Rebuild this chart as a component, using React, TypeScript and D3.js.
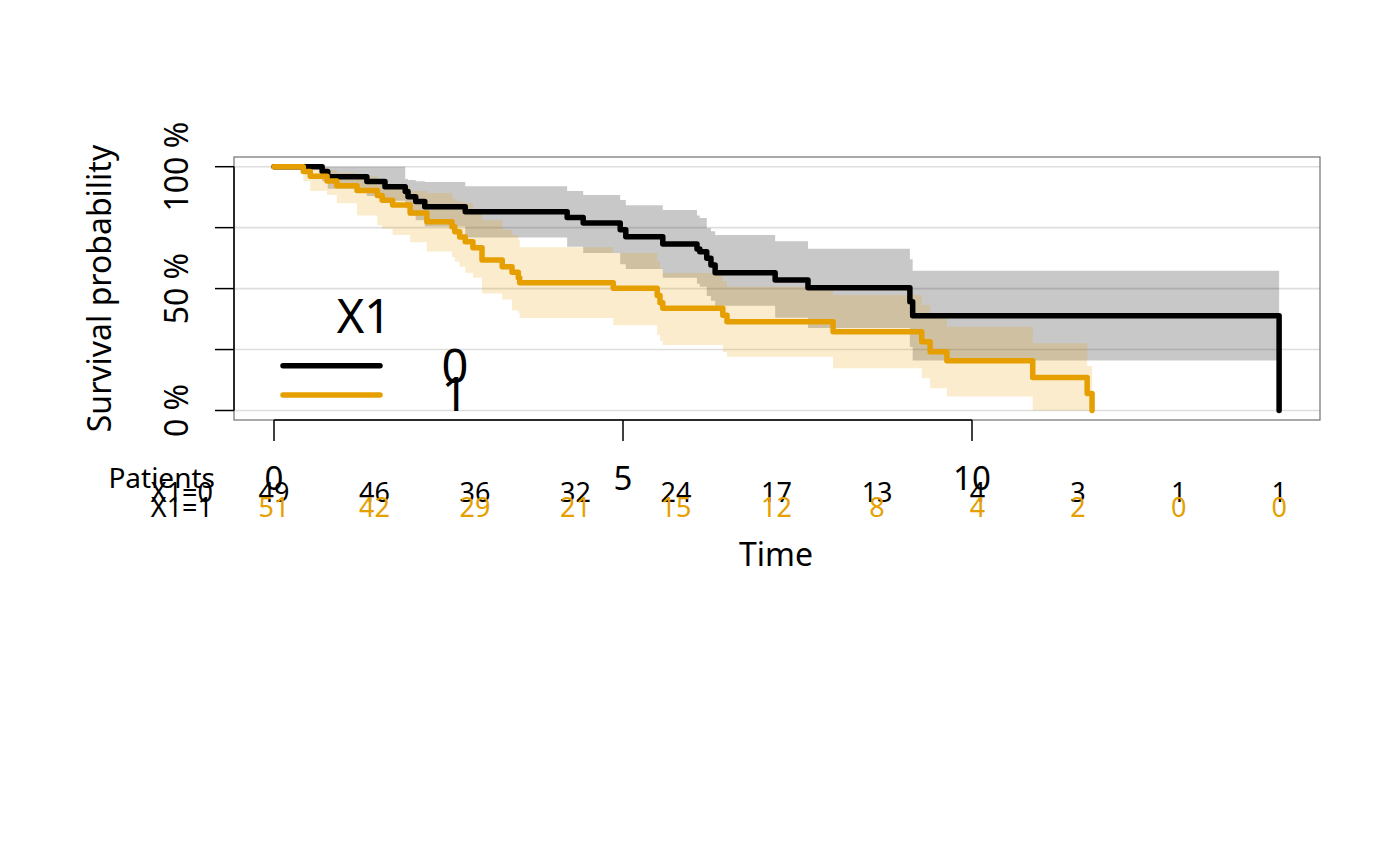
import * as d3 from 'd3';

// group X1 = 0 (black) and X1 = 1 (orange)
const groupLabels = ['0', '1'];
const groupColors = ['#000000', '#E69F00'];

const time0 = [0, 0.69, 0.77, 1.33, 1.59, 1.88, 1.92, 2.03, 2.16, 2.74, 4.2, 4.43, 4.96, 5.04, 5.57, 6.06, 6.1, 6.2, 6.26, 6.32, 7.18, 7.65, 9.11, 9.15, 14.4];
const surv0 = [1, 0.98, 0.959, 0.939, 0.918, 0.898, 0.877, 0.857, 0.836, 0.815, 0.792, 0.769, 0.741, 0.713, 0.683, 0.662, 0.651, 0.624, 0.597, 0.565, 0.535, 0.504, 0.446, 0.389, 0];
const upper0 = [1, 1, 1, 1, 1, 0.95, 0.945, 0.94, 0.937, 0.92, 0.9, 0.884, 0.863, 0.842, 0.822, 0.8, 0.79, 0.748, 0.735, 0.72, 0.694, 0.663, 0.62, 0.573, 0.573];
const lower0 = [1, 0.94, 0.91, 0.88, 0.86, 0.83, 0.8, 0.78, 0.755, 0.71, 0.672, 0.646, 0.6, 0.58, 0.545, 0.52, 0.508, 0.47, 0.45, 0.43, 0.38, 0.338, 0.26, 0.205, 0.205];

const time1 = [0, 0.42, 0.52, 0.76, 0.9, 1.19, 1.48, 1.55, 1.7, 1.95, 2.19, 2.55, 2.59, 2.66, 2.74, 2.85, 2.98, 3.27, 3.41, 3.5, 3.52, 4.86, 5.49, 5.53, 5.57, 6.43, 6.49, 8.01, 9.28, 9.4, 9.64, 10.87, 11.65, 11.72];
const surv1 = [1, 0.98, 0.961, 0.941, 0.922, 0.902, 0.882, 0.862, 0.843, 0.81, 0.774, 0.754, 0.733, 0.712, 0.692, 0.668, 0.617, 0.59, 0.567, 0.545, 0.524, 0.501, 0.472, 0.442, 0.419, 0.391, 0.364, 0.323, 0.282, 0.241, 0.204, 0.135, 0.07, 0];
const upper1 = [1, 1, 0.995, 0.985, 0.975, 0.96, 0.945, 0.93, 0.92, 0.9, 0.892, 0.87, 0.86, 0.855, 0.85, 0.82, 0.78, 0.74, 0.72, 0.7, 0.67, 0.646, 0.61, 0.585, 0.564, 0.53, 0.508, 0.474, 0.433, 0.385, 0.344, 0.276, 0.183, 0.183];
const lower1 = [1, 0.94, 0.9, 0.884, 0.85, 0.8, 0.76, 0.745, 0.72, 0.69, 0.652, 0.63, 0.61, 0.59, 0.565, 0.545, 0.48, 0.455, 0.41, 0.4, 0.379, 0.35, 0.31, 0.285, 0.269, 0.24, 0.22, 0.173, 0.132, 0.091, 0.057, 0, 0, 0];

const riskTimes = [0, 1.44, 2.88, 4.32, 5.76, 7.2, 8.64, 10.08, 11.52, 12.96, 14.4];
const risk0 = [49, 46, 36, 32, 24, 17, 13, 4, 3, 1, 1];
const risk1 = [51, 42, 29, 21, 15, 12, 8, 4, 2, 0, 0];

const xTicks = [0, 5, 10];
const yGrid = [0, 0.25, 0.5, 0.75, 1];
const yLabelTicks = [0, 0.5, 1];

const FONT = '"Noto Sans", "DejaVu Sans", sans-serif';

export default function App() {
  const x = d3.scaleLinear().domain([0, 10]).range([274, 972]);
  const y = d3.scaleLinear().domain([0, 1]).range([410.5, 166.7]);

  const series = [
    { t: time0, s: surv0, up: upper0, lo: lower0, risk: risk0 },
    { t: time1, s: surv1, up: upper1, lo: lower1, risk: risk1 },
  ];

  const box = { left: 234, right: 1320, top: 157, bottom: 420 };

  return (
    <svg width={1400} height={866} style={{ position: 'absolute', left: 0, top: 0 }} fontFamily={FONT}>
      <rect width={1400} height={866} fill="#ffffff" />

      {/* grid */}
      {yGrid.map(v => (
        <line key={v} x1={box.left} x2={box.right} y1={y(v)} y2={y(v)} stroke="#dedede" strokeWidth={1.6} />
      ))}

      {/* confidence bands */}
      {series.map((d, k) => {
        const area = d3.area<number>()
          .x(i => x(d.t[i]))
          .y0(i => y(d.lo[i]))
          .y1(i => y(d.up[i]))
          .curve(d3.curveStepAfter);
        return (
          <path key={'band' + k} d={area(d3.range(d.t.length)) ?? ''}
            fill={groupColors[k]} fillOpacity={k === 0 ? 0.215 : 0.2} />
        );
      })}

      {/* survival curves */}
      {series.map((d, k) => {
        const line = d3.line<number>()
          .x(i => x(d.t[i]))
          .y(i => y(d.s[i]))
          .curve(d3.curveStepAfter);
        return (
          <path key={'curve' + k} d={line(d3.range(d.t.length)) ?? ''} fill="none"
            stroke={groupColors[k]} strokeWidth={5.5} strokeLinejoin="round" strokeLinecap="round" />
        );
      })}

      {/* box */}
      <rect x={box.left} y={box.top} width={box.right - box.left} height={box.bottom - box.top}
        fill="none" stroke="#707070" strokeWidth={1.2} />

      {/* y axis */}
      <line x1={box.left} x2={box.left} y1={y(0)} y2={y(1)} stroke="#000" strokeWidth={1.5} />
      {yGrid.map(v => (
        <line key={'yt' + v} x1={215} x2={box.left} y1={y(v)} y2={y(v)} stroke="#000" strokeWidth={1.5} />
      ))}
      {yLabelTicks.map(v => (
        <text key={'yl' + v} transform={`translate(188,${y(v)}) rotate(-90)`} textAnchor="middle" fontSize={32}>
          {`${Math.round(v * 100)} %`}
        </text>
      ))}
      <text transform="translate(111,288.5) rotate(-90)" textAnchor="middle" fontSize={32}>Survival probability</text>

      {/* x axis */}
      <line x1={x(0)} x2={x(10)} y1={box.bottom} y2={box.bottom} stroke="#000" strokeWidth={1.5} />
      {xTicks.map(v => (
        <g key={'xt' + v}>
          <line x1={x(v)} x2={x(v)} y1={box.bottom} y2={441} stroke="#000" strokeWidth={1.5} />
          <text x={x(v)} y={490} textAnchor="middle" fontSize={33}>{v}</text>
        </g>
      ))}
      <text x={776} y={566} textAnchor="middle" fontSize={32}>Time</text>

      {/* risk table */}
      <text x={215} y={488} textAnchor="end" fontSize={28}>Patients</text>
      {series.map((d, k) => (
        <g key={'risk' + k}>
          <text x={213} y={502 + k * 15} textAnchor="end" fontSize={27}>{`X1=${groupLabels[k]}`}</text>
          {d.risk.map((n, i) => (
            <text key={i} x={x(riskTimes[i])} y={502 + k * 15} textAnchor="middle" fontSize={27}
              fill={groupColors[k]}>{n}</text>
          ))}
        </g>
      ))}

      {/* legend */}
      <text x={364} y={333} textAnchor="middle" fontSize={47}>X1</text>
      {groupLabels.map((g, k) => (
        <g key={'lg' + g}>
          <line x1={283} x2={380} y1={365.7 + k * 29.3} y2={365.7 + k * 29.3} stroke={groupColors[k]}
            strokeWidth={5.5} strokeLinecap="round" />
          <text x={455} y={383 + k * 28} textAnchor="middle" fontSize={47}>{g}</text>
        </g>
      ))}
    </svg>
  );
}
